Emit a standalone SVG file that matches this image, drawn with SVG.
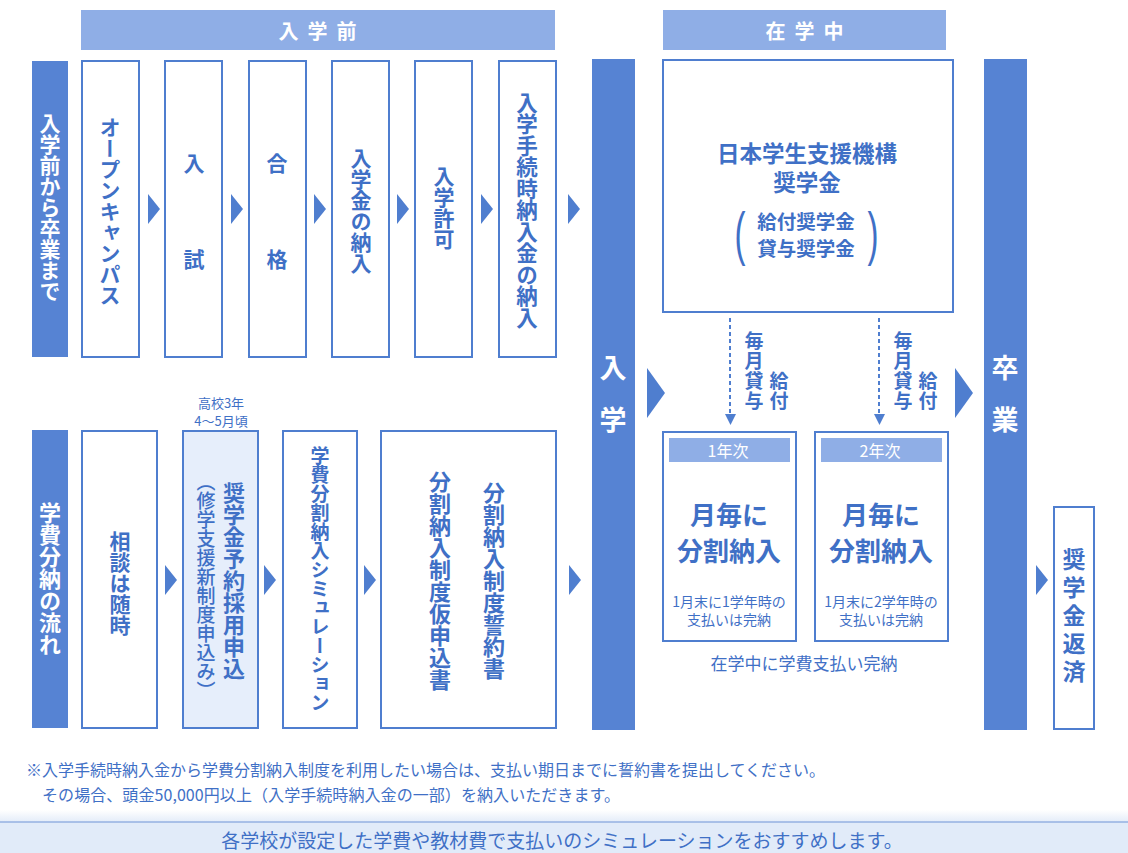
<svg xmlns="http://www.w3.org/2000/svg" width="1128" height="853" viewBox="0 0 1128 853">
<defs>
<style>
.bar{fill:#5683d3}
.hdr{fill:#8faee6}
.box{fill:#fff;stroke:#4f7ecf;stroke-width:2}
.lbox{fill:#e6eefb;stroke:#4f7ecf;stroke-width:2}
.arr{fill:#4f7ecf}
.t{font-family:"Noto Sans CJK JP","Noto Sans",sans-serif;fill:#3f70c6}
.w{fill:#fff}
.b{font-weight:bold}
.v{writing-mode:vertical-rl;text-anchor:middle}
.c{text-anchor:middle;dominant-baseline:central}
.p{font-family:"Liberation Sans",sans-serif;fill:#3f70c6;text-anchor:middle;dominant-baseline:central}
</style>
<linearGradient id="band" x1="0" y1="0" x2="0" y2="1">
<stop offset="0" stop-color="#ffffff"/>
<stop offset="1" stop-color="#e3ecf9"/>
</linearGradient>
</defs>
<rect width="1128" height="853" fill="#fff"/>

<g id="header-before">
<rect class="hdr" x="81" y="10" width="474" height="40"/>
<text class="t w b c" x="322" y="30" font-size="20" letter-spacing="9">入学前</text>
</g>
<g id="header-during">
<rect class="hdr" x="663" y="10" width="283" height="40"/>
<text class="t w b c" x="809" y="30" font-size="20" letter-spacing="9">在学中</text>
</g>

<g id="label-top">
<rect class="bar" x="32" y="61" width="36" height="296"/>
<text class="t w b v" x="50" y="207" font-size="21">入学前から卒業まで</text>
</g>
<g id="label-bottom">
<rect class="bar" x="32" y="430" width="36" height="298"/>
<text class="t w b v" x="50" y="579" font-size="22">学費分納の流れ</text>
</g>

<g id="n-open">
<rect class="box" x="82" y="61" width="57" height="296"/>
<text class="t b v" x="110" y="211" font-size="21">オープンキャンパス</text>
</g>
<g id="n-exam">
<rect class="box" x="165" y="61" width="57" height="296"/>
<text class="t b c" x="194" y="162" font-size="21">入</text>
<text class="t b c" x="194" y="258" font-size="21">試</text>
</g>
<g id="n-pass">
<rect class="box" x="249" y="61" width="57" height="296"/>
<text class="t b c" x="277" y="162" font-size="21">合</text>
<text class="t b c" x="277" y="258" font-size="21">格</text>
</g>
<g id="n-fee">
<rect class="box" x="332" y="61" width="57" height="296"/>
<text class="t b v" x="361" y="211" font-size="21">入学金の納入</text>
</g>
<g id="n-permit">
<rect class="box" x="415" y="61" width="57" height="296"/>
<text class="t b v" x="444" y="208" font-size="21">入学許可</text>
</g>
<g id="n-procfee">
<rect class="box" x="499" y="61" width="57" height="296"/>
<text class="t b v" x="527" y="210" font-size="21.5">入学手続時納入金の納入</text>
</g>

<g id="n-admission">
<rect class="bar" x="592" y="59" width="43" height="671"/>
<text class="t w b c" x="613" y="366" font-size="27">入</text>
<text class="t w b c" x="613" y="418" font-size="27">学</text>
</g>
<g id="n-graduation">
<rect class="bar" x="984" y="59" width="43" height="671"/>
<text class="t w b c" x="1005" y="366" font-size="27">卒</text>
<text class="t w b c" x="1005" y="418" font-size="27">業</text>
</g>

<g id="n-jasso">
<rect class="box" x="663" y="60" width="290" height="252"/>
<text class="t b c" x="807" y="152" font-size="22.5">日本学生支援機構</text>
<text class="t b c" x="807" y="181" font-size="22.5">奨学金</text>
<text class="t b c" x="806" y="220" font-size="19.5">給付奨学金</text>
<text class="t b c" x="806" y="247" font-size="19.5">貸与奨学金</text>
<text class="p" transform="translate(740,233) scale(0.55,1)" font-size="60">(</text>
<text class="p" transform="translate(873,233) scale(0.55,1)" font-size="60">)</text>
</g>

<g id="n-year1">
<rect class="box" x="663" y="432" width="133" height="209"/>
<rect class="hdr" x="669" y="438" width="121" height="24"/>
<text class="t w c" x="728" y="450" font-size="16">1年次</text>
<text class="t b c" x="729" y="513" font-size="26">月毎に</text>
<text class="t b c" x="729" y="549" font-size="26">分割納入</text>
<text class="t c" x="729" y="601" font-size="14">1月末に1学年時の</text>
<text class="t c" x="729" y="619" font-size="14">支払いは完納</text>
</g>
<g id="n-year2">
<rect class="box" x="815" y="432" width="133" height="209"/>
<rect class="hdr" x="821" y="438" width="121" height="24"/>
<text class="t w c" x="880" y="450" font-size="16">2年次</text>
<text class="t b c" x="881" y="513" font-size="26">月毎に</text>
<text class="t b c" x="881" y="549" font-size="26">分割納入</text>
<text class="t c" x="881" y="601" font-size="14">1月末に2学年時の</text>
<text class="t c" x="881" y="619" font-size="14">支払いは完納</text>
</g>
<g id="note-complete">
<text class="t c" x="804" y="662" font-size="17">在学中に学費支払い完納</text>
</g>

<g id="n-repay">
<rect class="box" x="1054" y="507" width="40" height="222"/>
<text class="t b v" x="1074" y="618" font-size="23" letter-spacing="5">奨学金返済</text>
</g>

<g id="n-consult">
<rect class="box" x="82" y="431" width="75" height="297"/>
<text class="t b v" x="120" y="583" font-size="21">相談は随時</text>
</g>
<g id="n-reserve">
<text class="t c" x="221" y="402" font-size="13">高校3年</text>
<text class="t c" x="221" y="420" font-size="13">4～5月頃</text>
<rect class="lbox" x="183" y="431" width="75" height="297"/>
<text class="t b v" x="234" y="581" font-size="22">奨学金予約採用申込</text>
<text class="t v" x="206" y="586" font-size="19" font-weight="500">（修学支援新制度申込み）</text>
</g>
<g id="n-sim">
<rect class="box" x="283" y="431" width="74" height="297"/>
<text class="t b v" x="320" y="579" font-size="19">学費分割納入シミュレーション</text>
</g>
<g id="n-pledge">
<rect class="box" x="381" y="431" width="175" height="297"/>
<text class="t b v" x="494" y="581" font-size="22">分割納入制度誓約書</text>
<text class="t b v" x="440" y="581" font-size="22">分割納入制度仮申込書</text>
</g>

<g id="connectors">
<polygon class="arr" points="148,194 160,209 148,224"/>
<polygon class="arr" points="231,194 243,209 231,224"/>
<polygon class="arr" points="314,194 326,209 314,224"/>
<polygon class="arr" points="397,194 409,209 397,224"/>
<polygon class="arr" points="481,194 493,209 481,224"/>
<polygon class="arr" points="568,194 580,209 568,224"/>
<polygon class="arr" points="165,565 177,580 165,595"/>
<polygon class="arr" points="264,565 276,580 264,595"/>
<polygon class="arr" points="364,565 376,580 364,595"/>
<polygon class="arr" points="569,565 581,580 569,595"/>
<polygon class="arr" points="1036,565 1048,580 1036,595"/>
<polygon class="arr" points="647,368 665,393 647,418"/>
<polygon class="arr" points="955,368 973,393 955,418"/>
<line x1="730" y1="318" x2="730" y2="414" stroke="#4f7ecf" stroke-width="2" stroke-dasharray="4,3"/>
<polygon class="arr" points="725,414 736,414 730.5,425"/>
<line x1="879" y1="318" x2="879" y2="414" stroke="#4f7ecf" stroke-width="2" stroke-dasharray="4,3"/>
<polygon class="arr" points="874,414 885,414 879.5,425"/>
<text class="t b v" x="754" y="371" font-size="19" letter-spacing="1">毎月貸与</text>
<text class="t b v" x="779" y="391" font-size="19" letter-spacing="1">給付</text>
<text class="t b v" x="903" y="371" font-size="19" letter-spacing="1">毎月貸与</text>
<text class="t b v" x="928" y="391" font-size="19" letter-spacing="1">給付</text>
</g>

<g id="footnote">
<text class="t" x="26" y="776" font-size="16">※入学手続時納入金から学費分割納入制度を利用したい場合は、支払い期日までに誓約書を提出してください。</text>
<text class="t" x="42" y="801" font-size="16" textLength="578" lengthAdjust="spacing">その場合、頭金50,000円以上（入学手続時納入金の一部）を納入いただきます。</text>
</g>

<g id="bottom-band">
<rect x="0" y="810" width="1128" height="12" fill="url(#band)"/>
<rect x="0" y="822" width="1128" height="31" fill="#e1ebf9"/>
<line x1="0" y1="822" x2="1128" y2="822" stroke="#6f93d6" stroke-width="1"/>
<text class="t c" x="562" y="839" font-size="19">各学校が設定した学費や教材費で支払いのシミュレーションをおすすめします。</text>
</g>
</svg>
